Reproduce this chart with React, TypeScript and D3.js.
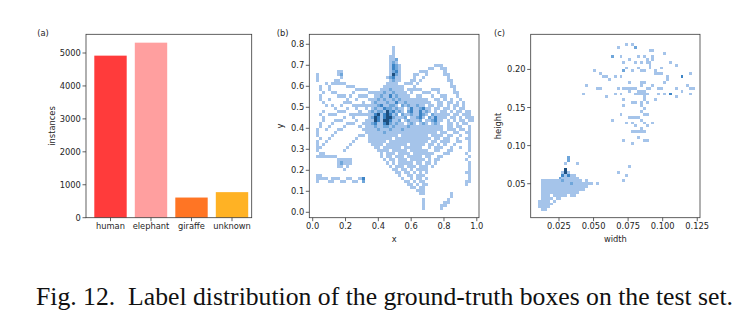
import React from "react";
import * as d3 from "d3";

// ---------- data ----------
const categories = ["human", "elephant", "giraffe", "unknown"];
const instances = [4920, 5314, 612, 776];
const barColors = ["#ff3b3b", "#ff9f9f", "#ff7524", "#ffb224"];
const countTicks = [0, 1000, 2000, 3000, 4000, 5000];

const xyTicksX = [0, 0.2, 0.4, 0.6, 0.8, 1.0];
const xyTicksY = [0, 0.1, 0.2, 0.3, 0.4, 0.5, 0.6, 0.7, 0.8];
const whTicksX = [0.025, 0.05, 0.075, 0.1, 0.125];
const whTicksY = [0.05, 0.1, 0.15, 0.2];

// histogram bins (data units): first bin left edge, bin width, top edge of first row, bin height
const xyBins = [0.02, 0.0185, 0.793, 0.0145];
const whBins = [0.01, 0.0021, 0.238, 0.0038];

// count levels per row (top row first): "col" or "a-b" -> level 1, ":n" -> level n (0 = empty bin)
const xyRows = [
  "25",
  "25",
  "25",
  "24-25",
  "24-25 26:2",
  "24 25:2 26",
  "24 25:3 26:2 27 39-41",
  "24 25:3 26:2 27 37-38 41-42",
  "7-8 24 25:2 26:3 27 34-36 42",
  "0 7 8:2 24 25:4 26:2 27 32-33 36 42-43",
  "0 8 23 24:2 25:3 26 27 32 35 43",
  "0 6-7 24 25:2 26 27 31-32 34 43-44",
  "3 5-9 23-26 29-31 33 44",
  "1 4 10-12 22-28 32 44-45",
  "1 4 13-16 21-28 24:2 30-34 38-40 45",
  "2 5-6 12 17-29 22:2 25:2 31 35-37 40 45-46",
  "1 7-9 11 14-16 19-30 21:2 24:3 26:2 33-34 38 41-42 46",
  "1 4 10 13 17-31 20:2 22:2 25:2 27:2 32-36 39-40 42 44 47",
  "2 9-11 15 18-37 19:2 23:2 26:3 29:2 40-41 43-44 46 48",
  "3 5 8 12-38 20:2 21:3 24:2 25:2 28:2 30:2 33:2 27:0 36:0 40-41 43 45-46 48",
  "6 10 13 16 18-40 19:2 22:3 23:2 24:2 26:2 31:3 34:2 35:3 29:0 38:0 42-43 45 47-48",
  "2 7-9 14 17-39 18:2 20:2 21:2 23:4 24:2 25:3 27:2 30:2 31:3 34:3 36:2 29:0 38:0 41-42 44 46-47 49-50",
  "1 4-6 11-41 19:3 20:4 22:3 23:4 24:3 26:2 28:2 31:2 34:3 35:2 38:2 27:0 37:0 42-43 45-46 48-50",
  "2 9 12 17-40 18:2 19:4 20:3 22:3 23:4 24:4 25:2 29:2 33:2 34:3 37:2 39:3 30:0 36:0 41-42 44-45 47 49-51",
  "2 6-8 13 16-41 19:4 20:3 22:4 23:4 24:3 27:2 30:2 34:2 38:2 39:3 28:0 35:0 43 45 47-48 50-51",
  "1 5 10-12 15-40 18:2 19:3 22:3 23:4 24:2 26:2 31:2 35:2 39:2 29:0 33:0 37:0 43-44 46 48-49",
  "1 4 9 14 16-38 19:2 22:2 23:2 25:2 30:2 39-41 43-44 46-47 50",
  "0 3 7-8 15-37 20:2 24:2 28:2 38-41 43-45 47-48 50",
  "0 6 16-36 22:2 37-39 41-42 45-46 49-50",
  "0 5 14-15 17-26 28-36 38-41 43-44 47 50",
  "1 4 13 17-24 26-37 39-40 42-43 46 49-50",
  "0 3 12 17-22 24-36 38-39 41-43 46-47 50",
  "0 2 11 18-21 23-29 31-35 37-38 40 42 45 50",
  "0-1 10 19-20 22-27 29-34 37 39-41 44 47 50",
  "0 9 20-23 25-29 31-36 39-40 43-44 50",
  "1-2 21 23-25 27-30 32-38 42-43 49",
  "0-6 21 23-24 26-28 30-34 36-37 40-41 50",
  "7-11 22 24-25 27-29 31-35 37 39-40 49",
  "7 8:2 9-11 23 25 27-31 33-34 36-37 39 50",
  "7-8 10 24 26-28 30-32 34-36 38 50",
  "9 25-26 28-29 31 33-36 50",
  "26-27 29-30 32 34 36 49-50",
  "0-1 27 30-31 33-35 50",
  "0-3 5-7 10-11 14 15:3 28 31 33-34 36 50",
  "0 4-5 8-9 12-13 15:2 29-30 32 34-35 49-50",
  "30-31 33 35-36 49",
  "31-32 34-35",
  "33-35",
  "34-35 44",
  "44",
  "35 43",
  "35 42-43",
  "35 41-42",
  "35 41",
];

const whRows = [
  "",
  "30 32",
  "27 33:2",
  "38-39",
  "43",
  "25:2 28 34 36 39",
  "31 37 39",
  "29 33 35 37-38 45",
  "38 47",
  "30 34 38 42",
  "19 29:2 32 35-36 40",
  "21 40-42 52",
  "22-23 26 28 44 49:3",
  "24 44",
  "31 35-36 43",
  "16 35 39 51",
  "20-21 27 29-33 37-38 41-42 47 52-53",
  "31 34-36 49",
  "15 26 28 33-37 41 43 45:3 52",
  "23 36 47",
  "29 36 40",
  "32-33 35 37",
  "29 35",
  "36",
  "35",
  "28 36-37",
  "31-34",
  "25 35",
  "30 32 36 39",
  "33 37",
  "35",
  "32-36",
  "",
  "34",
  "29 36-37",
  "32",
  "",
  "",
  "",
  "",
  "10:2",
  "10:2",
  "9 13",
  "31",
  "9:4",
  "8 9:4 10 27",
  "8:3 9 10:3 11-12 30",
  "7:2 8-13",
  "1-14 8:2 16 29",
  "1-18 11:2 20",
  "1-16",
  "1-15",
  "1-13",
  "1-3 5-9 11-12",
  "1-4 6-7",
  "0-3 5",
  "0-4",
  "0-3",
  "1-2",
];

const levelColors = ["#ffffff", "#a5c4ea", "#6fa6da", "#3d85c6", "#1d4f80"];

// ---------- helpers ----------
type Cell = { c: number; r: number; v: number };
function parseGrid(rows: string[]): Cell[] {
  const m = new Map<string, Cell>();
  rows.forEach((row, r) => {
    row
      .split(/\s+/)
      .filter(Boolean)
      .forEach((tok) => {
        const [range, lv] = tok.split(":");
        const v = lv !== undefined ? +lv : 1;
        const parts = range.split("-").map(Number);
        const a = parts[0];
        const b = parts.length > 1 ? parts[1] : a;
        for (let c = a; c <= b; c++) {
          const key = c + "," + r;
          const prev = m.get(key);
          if (!prev || lv !== undefined) m.set(key, { c, r, v });
        }
      });
  });
  return Array.from(m.values()).filter((d) => d.v > 0);
}

const FONT = "DejaVu Sans";
const FS = 8.3;
const TEXT = "#262626";
const TICK = 3.5;

const top = 34.3;
const bottom = 217.7;

function Frame({ x0, x1 }: { x0: number; x1: number }) {
  return (
    <rect x={x0} y={top} width={x1 - x0} height={bottom - top} fill="none" stroke="#3a3a3a" strokeWidth={0.8} />
  );
}

function YAxis({ scale, ticks, x0, fmt }: { scale: any; ticks: number[]; x0: number; fmt: (v: number) => string }) {
  return (
    <g>
      {ticks.map((t) => (
        <g key={t}>
          <line x1={x0 - TICK} x2={x0} y1={scale(t)} y2={scale(t)} stroke="#3a3a3a" strokeWidth={0.8} />
          <text x={x0 - TICK - 1.6} y={scale(t) + FS * 0.36} textAnchor="end" fontFamily={FONT} fontSize={FS} fill={TEXT}>
            {fmt(t)}
          </text>
        </g>
      ))}
    </g>
  );
}

function XAxis({ scale, ticks, fmt }: { scale: any; ticks: any[]; fmt: (v: any) => string }) {
  return (
    <g>
      {ticks.map((t, i) => (
        <g key={i}>
          <line x1={scale(t)} x2={scale(t)} y1={bottom} y2={bottom + TICK} stroke="#3a3a3a" strokeWidth={0.8} />
          <text x={scale(t)} y={bottom + TICK + 8.2} textAnchor="middle" fontFamily={FONT} fontSize={FS} fill={TEXT}>
            {fmt(t)}
          </text>
        </g>
      ))}
    </g>
  );
}

function Heat({ cells, bins, sx, sy }: { cells: Cell[]; bins: number[]; sx: any; sy: any }) {
  const [x0, bw, yTop, bh] = bins;
  return (
    <g shapeRendering="crispEdges">
      {cells.map((d) => {
        const xa = sx(x0 + d.c * bw);
        const xb = sx(x0 + (d.c + 1) * bw);
        const ya = sy(yTop - d.r * bh);
        const yb = sy(yTop - (d.r + 1) * bh);
        return <rect key={d.c + "_" + d.r} x={xa} y={ya} width={xb - xa} height={yb - ya} fill={levelColors[d.v]} />;
      })}
    </g>
  );
}

export default function App() {
  // panel (a)
  const aL = 86, aR = 251.7;
  const ay = d3.scaleLinear().domain([0, 5568]).range([bottom, top]);
  const ax = d3.scaleBand<string>().domain(categories).range([90.25, 252.25]).paddingInner(0.2).paddingOuter(0.1);

  // panel (b)
  const bL = 309.3, bR = 479;
  const bx = d3.scaleLinear().domain([-0.0207, 1.0134]).range([bL, bR]);
  const by = d3.scaleLinear().domain([-0.0257, 0.8476]).range([bottom, top]);
  const xyCells = parseGrid(xyRows);

  // panel (c)
  const cL = 530.7, cR = 700;
  const cx = d3.scaleLinear().domain([0.00454, 0.127]).range([cL, cR]);
  const cy = d3.scaleLinear().domain([0.00538, 0.2461]).range([bottom, top]);
  const whCells = parseGrid(whRows);

  return (
    <svg width={750} height={336} style={{ position: "absolute", left: 0, top: 0, background: "#fff" }}>
      <rect x={0} y={0} width={750} height={336} fill="#fff" />

      {/* (a) */}
      <g>
        {categories.map((c, i) => (
          <rect key={c} x={ax(c)} y={ay(instances[i])} width={ax.bandwidth()} height={ay(0) - ay(instances[i])} fill={barColors[i]} />
        ))}
        <Frame x0={aL} x1={aR} />
        <YAxis scale={ay} ticks={countTicks} x0={aL} fmt={(v) => String(v)} />
        <XAxis scale={(c: string) => (ax(c) as number) + ax.bandwidth() / 2} ticks={categories} fmt={(v) => v} />
        <text transform={`translate(54.7,126) rotate(-90)`} textAnchor="middle" fontFamily={FONT} fontSize={FS} fill={TEXT}>
          instances
        </text>
        <text x={37.3} y={36.4} fontFamily={FONT} fontSize={FS} fill={TEXT}>(a)</text>
      </g>

      {/* (b) */}
      <g>
        <Heat cells={xyCells} bins={xyBins} sx={bx} sy={by} />
        <Frame x0={bL} x1={bR} />
        <YAxis scale={by} ticks={xyTicksY} x0={bL} fmt={d3.format(".1f")} />
        <XAxis scale={bx} ticks={xyTicksX} fmt={d3.format(".1f")} />
        <text x={(bL + bR) / 2} y={241.5} textAnchor="middle" fontFamily={FONT} fontSize={FS} fill={TEXT}>x</text>
        <text transform={`translate(283,126) rotate(-90)`} textAnchor="middle" fontFamily={FONT} fontSize={FS} fill={TEXT}>y</text>
        <text x={276.7} y={36.4} fontFamily={FONT} fontSize={FS} fill={TEXT}>(b)</text>
      </g>

      {/* (c) */}
      <g>
        <Heat cells={whCells} bins={whBins} sx={cx} sy={cy} />
        <Frame x0={cL} x1={cR} />
        <YAxis scale={cy} ticks={whTicksY} x0={cL} fmt={d3.format(".2f")} />
        <XAxis scale={cx} ticks={whTicksX} fmt={d3.format(".3f")} />
        <text x={(cL + cR) / 2} y={241.5} textAnchor="middle" fontFamily={FONT} fontSize={FS} fill={TEXT}>width</text>
        <text transform={`translate(501.3,126) rotate(-90)`} textAnchor="middle" fontFamily={FONT} fontSize={FS} fill={TEXT}>height</text>
        <text x={494} y={36.4} fontFamily={FONT} fontSize={FS} fill={TEXT}>(c)</text>
      </g>

      {/* caption */}
      <text x={36} y={305} fontFamily="Liberation Serif" fontSize={25.7} fill="#111" style={{ whiteSpace: "pre" }}>
        {"Fig. 12.  Label distribution of the ground-truth boxes on the test set."}
      </text>
    </svg>
  );
}
